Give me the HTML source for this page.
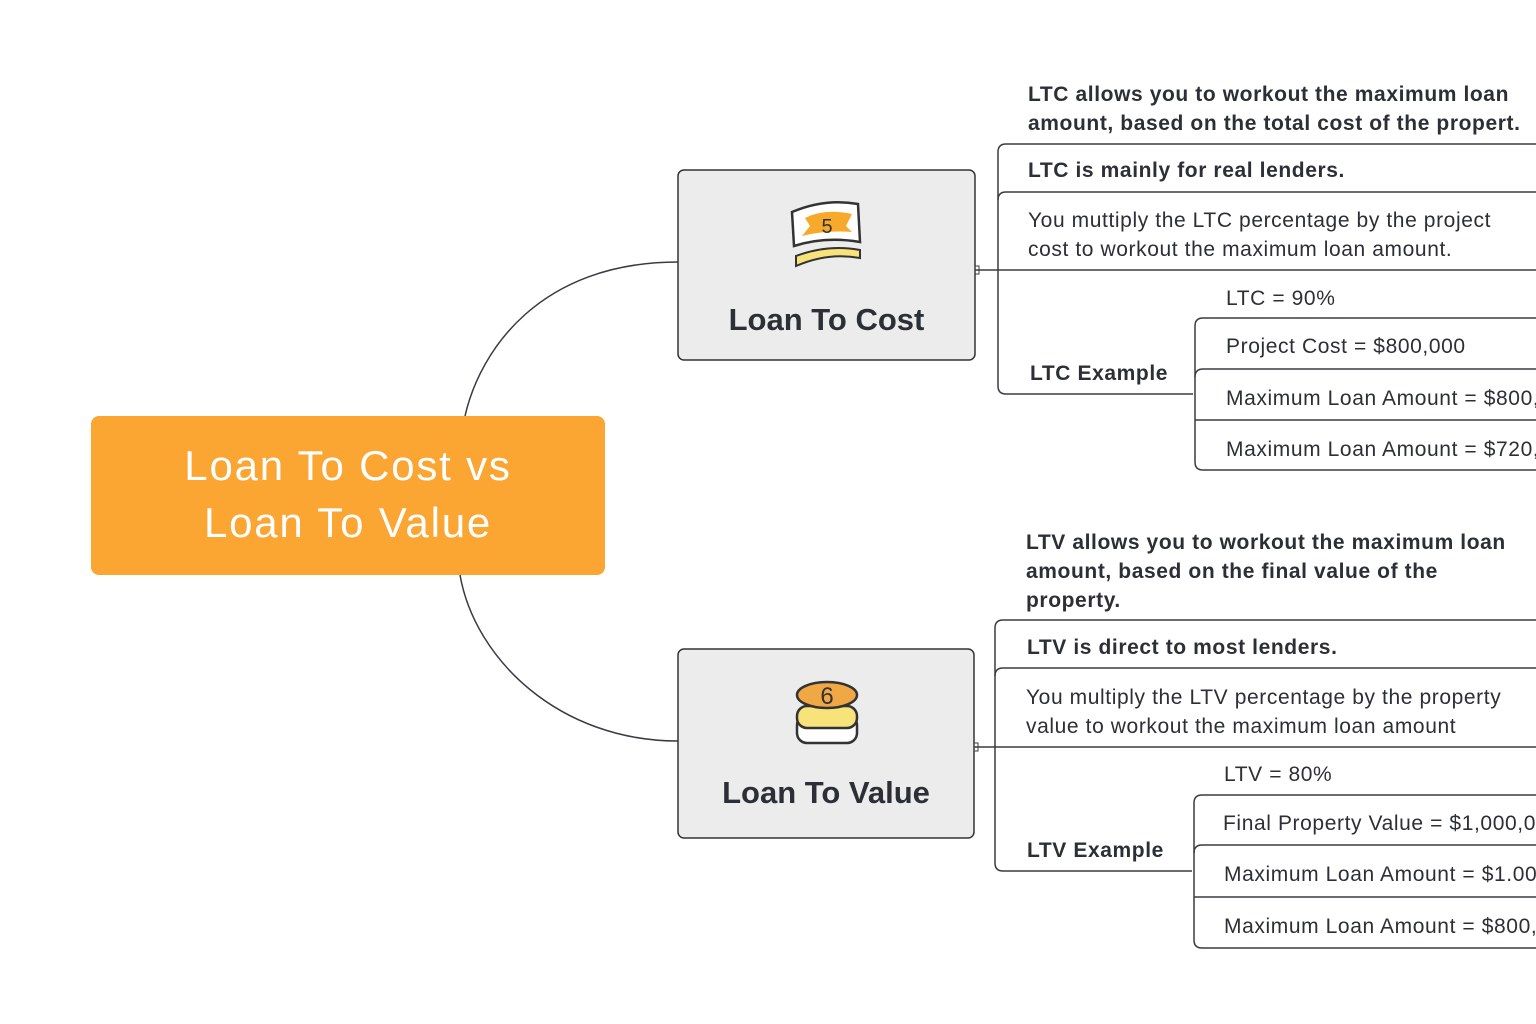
<!DOCTYPE html>
<html><head><meta charset="utf-8"><style>
body{margin:0;width:1536px;height:1024px;background:#fff;position:relative;overflow:hidden;font-family:"Liberation Sans",sans-serif;color:#2d2f36}
.t{position:absolute;font-size:21px;white-space:nowrap;line-height:29px;letter-spacing:0.6px}
.b{font-weight:bold}
</style></head><body>
<svg width="1536" height="1024" style="position:absolute;left:0;top:0" fill="none" stroke="#3a3c42" stroke-width="1.5">
<path d="M678,262 C540,262 480,350 465,416"/>
<path d="M460,575 C475,660 560,741 678,741"/>
<rect x="91" y="416" width="514" height="159" rx="8" fill="#fba533" stroke="none"/>
<rect x="678" y="170" width="297" height="190" rx="6" fill="#ececec" stroke="#333"/>
<rect x="678" y="649" width="296" height="189" rx="6" fill="#ececec" stroke="#333"/>
<path d="M1536,144 H1006 Q998,144 998,152 V386 Q998,394 1006,394 H1193"/>
<path d="M1006,192 H1536 M1006,192 Q998,192 998,200"/>
<path d="M975,270 H1536"/>
<rect x="975" y="266" width="4" height="8" stroke-width="1"/>
<path d="M1536,318 H1203 Q1195,318 1195,326 V462 Q1195,470 1203,470 H1536"/>
<path d="M1536,369 H1203 Q1195,369 1195,377 M1536,420 H1195"/>
<path d="M1536,620 H1003 Q995,620 995,628 V863 Q995,871 1003,871 H1192"/>
<path d="M1003,668 H1536 M1003,668 Q995,668 995,676"/>
<path d="M974,747 H1536"/>
<rect x="974" y="743" width="4" height="8" stroke-width="1"/>
<path d="M1536,795 H1202 Q1194,795 1194,803 V940 Q1194,948 1202,948 H1536"/>
<path d="M1536,845 H1202 Q1194,845 1194,853 M1536,897 H1194"/>
<path d="M792,212 Q825,198 858,204 L860,242 Q825,236 794,246 Z" fill="#fff" stroke="#333" stroke-width="2.5"/>
<path d="M805,218 Q825,208 852,214 L846,226 852,232 Q825,230 802,236 L810,226 Z" fill="#f7a92b" stroke="none"/>
<text x="827" y="233" font-size="20" fill="#333" stroke="none" text-anchor="middle" font-family="Liberation Sans">5</text>
<path d="M796,256 Q828,244 860,250 L860,258 Q828,252 796,266 Z" fill="#f8e27a" stroke="#333" stroke-width="2"/>
<rect x="797" y="715" width="60" height="28" rx="10" fill="#fff" stroke="#333" stroke-width="2.5"/>
<rect x="797" y="706" width="60" height="22" rx="10" fill="#f8e27a" stroke="#333" stroke-width="2.5"/>
<ellipse cx="827" cy="695" rx="30" ry="13" fill="#f0a845" stroke="#333" stroke-width="2.5"/>
<text x="827" y="704" font-size="24" fill="#333" stroke="none" text-anchor="middle" font-family="Liberation Sans">6</text>
</svg>
<div style="position:absolute;left:91px;top:437px;width:514px;text-align:center;color:#fff;font-size:42px;line-height:57px;letter-spacing:1.8px">Loan To Cost vs<br>Loan To Value</div>
<div class="t b" style="left:678px;width:297px;text-align:center;top:303px;font-size:31px;line-height:34px;letter-spacing:0">Loan To Cost</div>
<div class="t b" style="left:678px;width:296px;text-align:center;top:776px;font-size:31px;line-height:34px;letter-spacing:0">Loan To Value</div>

<div class="t b" style="left:1028px;top:80px">LTC allows you to workout the maximum loan<br>amount, based on the total cost of the propert.</div>
<div class="t b" style="left:1028px;top:156px">LTC is mainly for real lenders.</div>
<div class="t" style="left:1028px;top:206px">You muttiply the LTC percentage by the project<br>cost to workout the maximum loan amount.</div>
<div class="t b" style="left:1030px;top:359px">LTC Example</div>
<div class="t" style="left:1226px;top:284px">LTC = 90%</div>
<div class="t" style="left:1226px;top:332px">Project Cost = $800,000</div>
<div class="t" style="left:1226px;top:384px">Maximum Loan Amount = $800,000 x 90%</div>
<div class="t" style="left:1226px;top:435px">Maximum Loan Amount = $720,000</div>

<div class="t b" style="left:1026px;top:528px">LTV allows you to workout the maximum loan<br>amount, based on the final value of the<br>property.</div>
<div class="t b" style="left:1027px;top:633px">LTV is direct to most lenders.</div>
<div class="t" style="left:1026px;top:683px">You multiply the LTV percentage by the property<br>value to workout the maximum loan amount</div>
<div class="t b" style="left:1027px;top:836px">LTV Example</div>
<div class="t" style="left:1224px;top:760px">LTV = 80%</div>
<div class="t" style="left:1223px;top:809px">Final Property Value = $1,000,000</div>
<div class="t" style="left:1224px;top:860px">Maximum Loan Amount = $1.000,000 x 80%</div>
<div class="t" style="left:1224px;top:912px">Maximum Loan Amount = $800,000</div>
</body></html>
